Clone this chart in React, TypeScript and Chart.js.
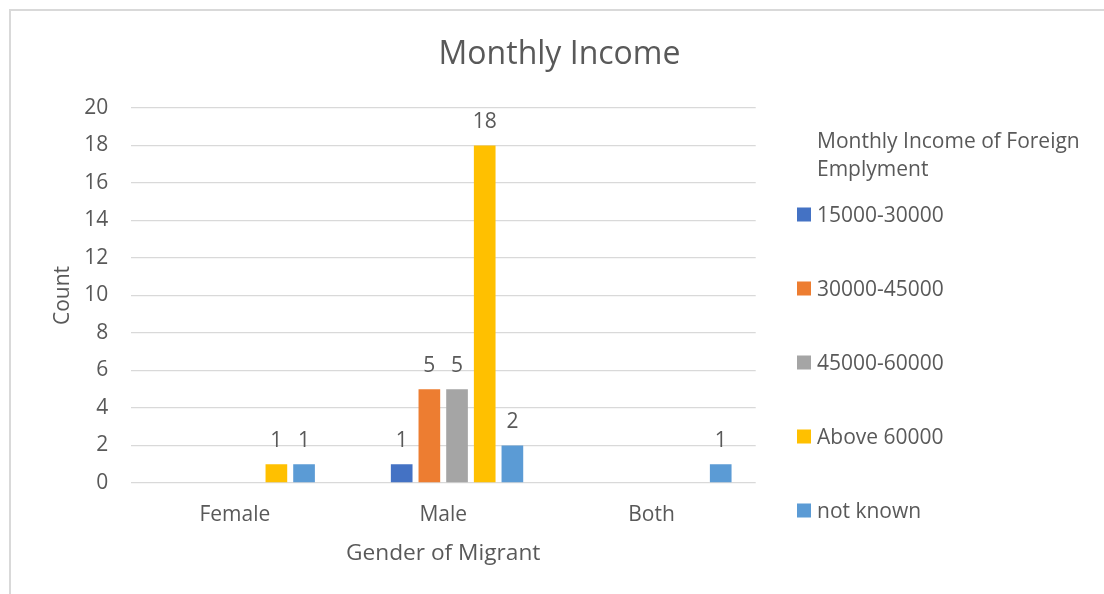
import React, { useEffect, useRef } from 'react';
import { Chart, registerables, layouts } from 'chart.js';

Chart.register(...registerables);

// ---- data ----
const categories = ['Female', 'Male', 'Both'];
const seriesLabels = ['15000-30000', '30000-45000', '45000-60000', 'Above 60000', 'not known'];
const income15000to30000 = [0, 1, 0];
const income30000to45000 = [0, 5, 0];
const income45000to60000 = [0, 5, 0];
const incomeAbove60000 = [1, 18, 0];
const incomeNotKnown = [1, 2, 1];
const blankSeries = [0, 0, 0];
const seriesColors = ['#4472C4', '#ED7D31', '#A5A5A5', '#FFC000', '#5B9BD5'];
const yMin = 0;
const yMax = 20;
const yStep = 2;
const chartTitle = 'Monthly Income';
const legendTitle = ['Monthly Income of Foreign', 'Emplyment'];
const xTitle = 'Gender of Migrant';
const yTitle = 'Count';

const FONT = "'Open Sans', sans-serif";
const TEXT = '#595959';
const GRID = '#d9d9d9';

const seriesValues = [
  income15000to30000,
  income30000to45000,
  income45000to60000,
  incomeAbove60000,
  incomeNotKnown,
];

export default function App() {
  const ref = useRef<HTMLCanvasElement | null>(null);

  useEffect(() => {
    if (!ref.current) return;

    const legendBoxPlugin = {
      id: 'sideLegend',
      beforeInit(chart: any) {
        const box: any = {
          position: 'right',
          weight: 100,
          fullSize: false,
          options: {},
          left: 0,
          top: 0,
          right: 0,
          bottom: 0,
          width: 0,
          height: 0,
          isHorizontal() {
            return false;
          },
          update(maxWidth: number, maxHeight: number) {
            this.width = 348.3;
            this.height = maxHeight;
          },
          draw() {
            const ctx = chart.ctx;
            const x0 = this.left;
            ctx.save();
            ctx.font = `21px ${FONT}`;
            ctx.fillStyle = TEXT;
            ctx.textAlign = 'left';
            ctx.textBaseline = 'alphabetic';
            legendTitle.forEach((line, i) => {
              ctx.fillText(line, x0 + 61.3, 148 + i * 28);
            });
            chart.data.datasets.forEach((ds: any, i: number) => {
              if (!ds.label) return;
              const k = i - 1;
              const base = 222 + k * 74;
              ctx.fillStyle = ds.backgroundColor;
              ctx.fillRect(x0 + 41.3, base - 14.5, 14, 14);
              ctx.fillStyle = TEXT;
              ctx.fillText(ds.label, x0 + 61.3, base);
            });
            ctx.restore();
          },
        };
        layouts.addBox(chart, box);
      },
    };

    const valueLabels = {
      id: 'valueLabels',
      afterDatasetsDraw(chart: any) {
        const ctx = chart.ctx;
        ctx.save();
        ctx.font = `21px ${FONT}`;
        ctx.fillStyle = TEXT;
        ctx.textAlign = 'center';
        ctx.textBaseline = 'alphabetic';
        chart.data.datasets.forEach((ds: any, i: number) => {
          if (!ds.label) return;
          const meta = chart.getDatasetMeta(i);
          meta.data.forEach((bar: any, j: number) => {
            const v = ds.data[j];
            if (!v) return;
            ctx.fillText(String(v), bar.x, bar.y - 17.5);
          });
        });
        ctx.restore();
      },
    };

    const datasets: any[] = [
      {
        label: '',
        data: blankSeries,
        backgroundColor: 'rgba(0,0,0,0)',
        borderWidth: 0,
      },
      ...seriesLabels.map((label, i) => ({
        label,
        data: seriesValues[i],
        backgroundColor: seriesColors[i],
        borderWidth: 0,
      })),
    ];

    const chart = new Chart(ref.current, {
      type: 'bar',
      data: { labels: categories, datasets },
      plugins: [legendBoxPlugin, valueLabels],
      options: {
        animation: false,
        responsive: false,
        devicePixelRatio: 1,
        layout: { padding: { left: 15, right: 0, top: 0, bottom: 0 } },
        datasets: {
          bar: { categoryPercentage: 0.797, barPercentage: 0.783 },
        },
        plugins: {
          legend: { display: false },
          tooltip: { enabled: false },
          title: {
            display: true,
            text: chartTitle,
            color: TEXT,
            font: { family: FONT, size: 32, weight: 'normal' },
            padding: { top: 35.4, bottom: 34.2 },
          },
        },
        scales: {
          x: {
            grid: { display: false },
            border: { display: false },
            ticks: {
              color: TEXT,
              font: { family: FONT, size: 21 },
              padding: 11.4,
            },
            title: {
              display: true,
              text: xTitle,
              color: TEXT,
              font: { family: FONT, size: 22.7 },
              padding: { top: 0, bottom: 27 },
            },
            afterFit(scale: any) {
              scale.height = 111;
            },
          },
          y: {
            min: yMin,
            max: yMax,
            grid: { color: GRID, lineWidth: 1.3, drawTicks: false },
            border: { display: false },
            ticks: {
              stepSize: yStep,
              color: TEXT,
              font: { family: FONT, size: 21 },
              padding: 22.5,
            },
            title: {
              display: true,
              text: yTitle,
              color: TEXT,
              font: { family: FONT, size: 21 },
              padding: { top: 35.4, bottom: 0 },
            },
            afterFit(scale: any) {
              scale.width = 115.7;
            },
          },
        },
      },
    } as any);

    return () => chart.destroy();
  }, []);

  return (
    <div style={{ position: 'absolute', left: 0, top: 0, width: 1104, height: 594, background: '#fff' }}>
      <canvas ref={ref} width={1104} height={594} style={{ position: 'absolute', left: 0, top: 0 }} />
      <div
        style={{
          position: 'absolute',
          left: 9,
          top: 8.5,
          right: -4,
          bottom: -4,
          borderLeft: '2px solid #d9d9d9',
          borderTop: '2px solid #d9d9d9',
          pointerEvents: 'none',
        }}
      />
    </div>
  );
}
